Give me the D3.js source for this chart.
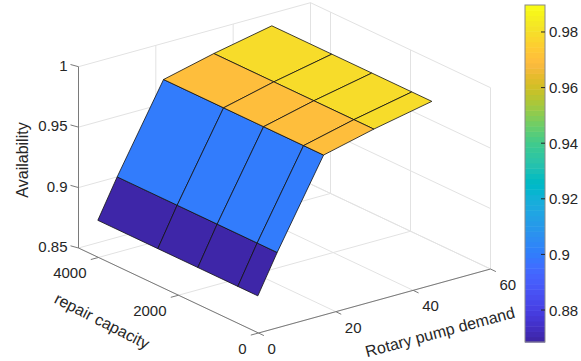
<!DOCTYPE html>
<html>
<head>
<meta charset="utf-8">
<script src="https://cdn.jsdelivr.net/npm/d3@7"></script>
<style>
  body { margin: 0; background: #fff; }
  svg text { font-family: "Liberation Sans", Arial, sans-serif; fill: #262626; }
</style>
</head>
<body>
<script>
// pump demand (x), repair capacity (y), availability z[y][x]
const demand = [5, 10, 22, 35, 50];
const repairCapacity = [500, 1000, 2000, 3000, 4500];
const availability = [
  [0.8685, 0.900, 0.970, 0.980, 0.9897],
  [0.8685, 0.900, 0.970, 0.980, 0.9897],
  [0.8685, 0.900, 0.970, 0.980, 0.9897],
  [0.8685, 0.900, 0.970, 0.980, 0.9897],
  [0.8685, 0.900, 0.970, 0.980, 0.9897]
];
const xTicks = [0, 20, 40, 60];
const yTicks = [0, 2000, 4000];
const zTicks = [0.85, 0.9, 0.95, 1];
const cbTicks = [0.88, 0.9, 0.92, 0.94, 0.96, 0.98];

// matlab parula, 64 entries
const parula = [
[0.2422,0.1504,0.6603],[0.2504,0.1650,0.7076],[0.2578,0.1818,0.7511],[0.2647,0.1978,0.7952],
[0.2706,0.2147,0.8364],[0.2751,0.2342,0.8710],[0.2783,0.2559,0.8991],[0.2803,0.2782,0.9221],
[0.2813,0.3006,0.9414],[0.2810,0.3228,0.9579],[0.2795,0.3447,0.9717],[0.2760,0.3667,0.9829],
[0.2699,0.3892,0.9906],[0.2602,0.4123,0.9952],[0.2440,0.4358,0.9988],[0.2206,0.4603,0.9973],
[0.1963,0.4847,0.9892],[0.1834,0.5074,0.9798],[0.1786,0.5289,0.9682],[0.1764,0.5499,0.9520],
[0.1687,0.5703,0.9359],[0.1540,0.5902,0.9218],[0.1460,0.6091,0.9079],[0.1380,0.6276,0.8973],
[0.1248,0.6459,0.8883],[0.1113,0.6635,0.8763],[0.0952,0.6798,0.8598],[0.0689,0.6948,0.8394],
[0.0297,0.7082,0.8163],[0.0036,0.7203,0.7917],[0.0067,0.7312,0.7660],[0.0433,0.7411,0.7394],
[0.0964,0.7500,0.7120],[0.1408,0.7584,0.6842],[0.1717,0.7670,0.6554],[0.1938,0.7758,0.6251],
[0.2161,0.7843,0.5923],[0.2470,0.7918,0.5567],[0.2906,0.7973,0.5188],[0.3406,0.8008,0.4789],
[0.3909,0.8029,0.4354],[0.4456,0.8024,0.3909],[0.5044,0.7993,0.3480],[0.5616,0.7942,0.3045],
[0.6174,0.7876,0.2612],[0.6720,0.7793,0.2227],[0.7242,0.7698,0.1910],[0.7738,0.7598,0.1646],
[0.8203,0.7498,0.1535],[0.8634,0.7406,0.1596],[0.9035,0.7330,0.1774],[0.9393,0.7288,0.2100],
[0.9728,0.7298,0.2394],[0.9956,0.7434,0.2371],[0.9970,0.7659,0.2199],[0.9952,0.7893,0.2028],
[0.9892,0.8136,0.1885],[0.9786,0.8386,0.1766],[0.9676,0.8639,0.1643],[0.9610,0.8890,0.1537],
[0.9597,0.9135,0.1423],[0.9628,0.9373,0.1265],[0.9691,0.9606,0.1064],[0.9769,0.9839,0.0805]
].map(c => d3.rgb(c[0] * 255, c[1] * 255, c[2] * 255).formatHex());

const width = 581, height = 361;
const svg = d3.select('body').append('svg')
    .attr('width', width)
    .attr('height', height);

// normalised box coords
const xs = d3.scaleLinear().domain([0, 60]).range([0, 1]);
const ys = d3.scaleLinear().domain([0, 4500]).range([0, 1]);
const zs = d3.scaleLinear().domain([0.85, 1]).range([0, 1]);

// screen vectors of the box edges (view az -37.5, el 30)
const origin = [258.5, 333];
const ex = [232, -64], ey = [-180, -85], ez = [0, -181.3];
function proj(x, y, z) {
    const a = xs(x), b = ys(y), c = zs(z);
    return [origin[0] + a * ex[0] + b * ey[0] + c * ez[0],
            origin[1] + a * ex[1] + b * ey[1] + c * ez[1]];
}
const line = d3.line();
const [x0, x1] = xs.domain(), [y0, y1] = ys.domain(), [z0, z1] = zs.domain();

// grid
const grid = svg.append('g').attr('stroke', '#e2e2e2').attr('fill', 'none').attr('stroke-width', 1);
xTicks.forEach(t => {
    grid.append('path').attr('d', line([proj(t, y1, z0), proj(t, y1, z1)]));
    grid.append('path').attr('d', line([proj(t, y0, z0), proj(t, y1, z0)]));
});
yTicks.forEach(t => {
    grid.append('path').attr('d', line([proj(x1, t, z0), proj(x1, t, z1)]));
    grid.append('path').attr('d', line([proj(x0, t, z0), proj(x1, t, z0)]));
});
zTicks.forEach(t => {
    grid.append('path').attr('d', line([proj(x0, y1, t), proj(x1, y1, t)]));
    grid.append('path').attr('d', line([proj(x1, y0, t), proj(x1, y1, t)]));
});

// axis lines
const axes = svg.append('g').attr('stroke', '#7a7a7a').attr('fill', 'none').attr('stroke-width', 1);
axes.append('path').attr('d', line([proj(x0, y1, z0), proj(x0, y1, z1)]));
axes.append('path').attr('d', line([proj(x0, y0, z0), proj(x0, y1, z0)]));
axes.append('path').attr('d', line([proj(x0, y0, z0), proj(x1, y0, z0)]));

const labels = svg.append('g').style('font-size', '15px');
zTicks.forEach(t => {
    const p = proj(x0, y1, t);
    axes.append('path').attr('d', line([p, [p[0] - 8, p[1] - 2.2]]));
    labels.append('text').attr('x', p[0] - 11).attr('y', p[1] - 1.5)
        .attr('text-anchor', 'end').attr('dominant-baseline', 'central')
        .text(d3.format('~g')(t));
});
yTicks.forEach(t => {
    const p = proj(x0, t, z0);
    axes.append('path').attr('d', line([p, [p[0] - 7.7, p[1] + 2.1]]));
    labels.append('text').attr('x', p[0] - 12).attr('y', p[1] + 15)
        .attr('text-anchor', 'end').attr('dominant-baseline', 'central')
        .text(t);
});
xTicks.forEach(t => {
    const p = proj(t, y0, z0);
    axes.append('path').attr('d', line([p, [p[0] + 5.4, p[1] + 2.6]]));
    labels.append('text').attr('x', p[0] + 9).attr('y', p[1] + 15.5)
        .attr('text-anchor', 'start').attr('dominant-baseline', 'central')
        .text(t);
});

// colour mapping like matlab scaled CData
const flat = availability.flat();
const cmin = d3.min(flat), cmax = d3.max(flat);
const color = d3.scaleQuantize().domain([cmin, cmax]).range(parula);

// surface faces, painter's order
const view = [-0.527, -0.687, 0.5];
const faces = [];
for (let i = 0; i < repairCapacity.length - 1; i++) {
    for (let j = 0; j < demand.length - 1; j++) {
        const pts = [[j, i], [j + 1, i], [j + 1, i + 1], [j, i + 1]]
            .map(([a, b]) => [demand[a], repairCapacity[b], availability[b][a]]);
        const depth = d3.mean(pts, p => view[0] * xs(p[0]) + view[1] * ys(p[1]) + view[2] * zs(p[2]));
        faces.push({ pts, depth, c: availability[i][j] });
    }
}
faces.sort((a, b) => a.depth - b.depth);
svg.append('g').selectAll('path')
    .data(faces)
    .enter()
    .append('path')
    .attr('d', d => line(d.pts.map(p => proj(p[0], p[1], p[2]))) + 'Z')
    .attr('fill', d => color(d.c))
    .attr('stroke', '#111')
    .attr('stroke-width', 0.8)
    .attr('stroke-linejoin', 'round');

// axis titles
const titles = svg.append('g').style('font-size', '16px');
titles.append('text')
    .attr('transform', 'translate(22,160) rotate(-90)')
    .attr('text-anchor', 'middle').attr('dominant-baseline', 'central')
    .text('Availability');
titles.append('text')
    .attr('transform', 'translate(440,332) rotate(-15)')
    .attr('text-anchor', 'middle').attr('dominant-baseline', 'central')
    .text('Rotary pump demand');
titles.append('text')
    .attr('transform', 'translate(102,321) rotate(27)')
    .attr('text-anchor', 'middle').attr('dominant-baseline', 'central')
    .text('repair capacity');

// colorbar
const cbX = 525, cbW = 20;
const cy = d3.scaleLinear().domain([cmin, cmax]).range([342, 5]);
const cb = svg.append('g');
const step = (cmax - cmin) / parula.length;
cb.selectAll('rect')
    .data(parula)
    .enter()
    .append('rect')
    .attr('x', cbX)
    .attr('width', cbW)
    .attr('y', (d, i) => cy(cmin + (i + 1) * step))
    .attr('height', (d, i) => cy(cmin + i * step) - cy(cmin + (i + 1) * step) + 0.5)
    .attr('fill', d => d);
cb.append('rect')
    .attr('x', cbX).attr('y', cy(cmax))
    .attr('width', cbW).attr('height', cy(cmin) - cy(cmax))
    .attr('fill', 'none').attr('stroke', '#8a8a8a').attr('stroke-width', 1);
cbTicks.forEach(t => {
    cb.append('path').attr('d', line([[cbX + cbW, cy(t)], [cbX + cbW - 4, cy(t)]]))
        .attr('stroke', '#262626').attr('stroke-width', 1);
    cb.append('text').attr('x', cbX + cbW + 4).attr('y', cy(t))
        .attr('dominant-baseline', 'central')
        .style('font-size', '15px')
        .text(d3.format('~g')(t));
});
</script>
</body>
</html>
